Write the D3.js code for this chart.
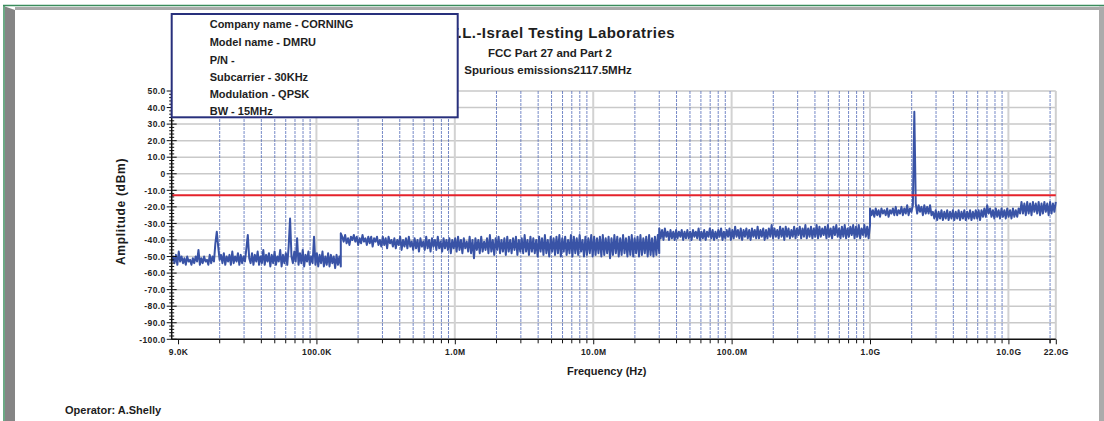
<!DOCTYPE html>
<html><head><meta charset="utf-8">
<script src="https://cdn.jsdelivr.net/npm/d3@7"></script>
<style>
body{margin:0;background:#fff;}
svg{display:block;font-family:"Liberation Sans",Arial,sans-serif;font-weight:bold;}
</style>
</head><body><svg id="c" width="1104" height="421"></svg>
<script>
// ---------------- DATA ----------------
const segStartHz = [9e3, 1.5e5, 3e7, 1e9];
const segEndHz   = [1.5e5, 3e7, 1e9, 2.2e10];
// Segment 1: 9 kHz - 150 kHz (dBm)
const seg1 = [
-53,-50,-54,-49,-55,-47,-53,-50,-54,-51,
-55,-50,-53,-52,-55,-51,-54,-50,-53,-46,
-55,-51,-54,-50,-53,-52,-55,-49,-54,-50,
-53,-42,-35,-44,-52,-49,-54,-48,-55,-50,
-53,-49,-55,-47,-54,-50,-53,-48,-55,-49,
-54,-50,-53,-45,-37,-51,-54,-48,-55,-49,
-53,-47,-55,-50,-54,-46,-55,-49,-53,-48,
-56,-49,-54,-47,-55,-50,-53,-46,-56,-49,
-54,-48,-55,-44,-27,-50,-54,-47,-53,-39,
-55,-48,-54,-46,-56,-49,-53,-47,-55,-50,
-54,-38,-55,-48,-56,-49,-54,-47,-56,-50,
-55,-48,-56,-49,-54,-50,-57,-49,-55,-50,-56];
// Segment 2: 150 kHz - 30 MHz
const seg2 = [
-36,-38,-41,-37,-42,-39,-43,-38,-40,-37,
-41,-38,-43,-39,-42,-37,-41,-39,-43,-38,
-42,-38,-44,-39,-41,-38,-43,-40,-44,-38,
-43,-39,-45,-38,-42,-40,-44,-39,-45,-40,
-43,-38,-46,-40,-44,-39,-45,-38,-44,-41,
-46,-39,-45,-40,-47,-39,-44,-41,-46,-38,
-45,-40,-47,-39,-44,-40,-46,-38,-45,-41,
-47,-39,-45,-40,-46,-39,-48,-40,-45,-39,
-47,-38,-46,-40,-48,-39,-45,-41,-47,-38,
-48,-40,-51,-39,-46,-40,-48,-38,-47,-41,
-46,-39,-48,-37,-47,-40,-49,-39,-46,-38,
-48,-40,-47,-39,-49,-38,-47,-40,-48,-39,
-46,-38,-49,-40,-47,-39,-48,-37,-47,-40,
-49,-38,-47,-39,-48,-40,-50,-38,-47,-39,
-49,-37,-48,-40,-50,-38,-47,-39,-49,-38,
-48,-37,-50,-39,-47,-38,-49,-40,-48,-37,
-50,-38,-48,-39,-49,-37,-47,-40,-50,-38,
-49,-39,-48,-37,-50,-38,-49,-39,-48,-38,
-50,-37,-49,-39,-48,-38,-51,-39,-49,-37,
-48,-38,-50,-39,-49,-37,-48,-39,-50,-38,
-49,-37,-50,-39,-48,-38,-50,-37,-49,-39,
-48,-38,-50,-37,-49,-39,-50,-38,-49,-37,-48];
// Segment 3: 30 MHz - 1 GHz
const seg3 = [
-33,-39,-34,-40,-33,-38,-35,-40,-34,-39,
-35,-40,-34,-39,-35,-38,-34,-40,-35,-39,
-34,-39,-35,-40,-34,-38,-35,-39,-33,-40,
-35,-39,-34,-40,-35,-38,-33,-39,-34,-40,
-35,-39,-34,-38,-33,-40,-35,-39,-34,-38,
-33,-40,-34,-39,-32,-38,-34,-39,-33,-40,
-34,-38,-33,-39,-34,-40,-33,-38,-34,-39,
-32,-39,-34,-38,-33,-40,-34,-39,-33,-38,
-31,-39,-33,-38,-34,-39,-32,-38,-33,-40,
-32,-38,-33,-39,-34,-38,-32,-39,-33,-37,
-32,-39,-33,-38,-31,-39,-33,-38,-32,-39,
-33,-38,-31,-39,-32,-38,-33,-37,-32,-39,
-31,-38,-33,-39,-32,-37,-31,-38,-33,-39,
-32,-38,-31,-39,-33,-38,-32,-37,-31,-39,
-32,-38,-31,-39,-33,-37,-31,-38,-32,-39,-31];
// Segment 4: 1 GHz - 22 GHz (carrier at 2117.5 MHz)
const seg4 = [
-21,-25,-22,-26,-21,-25,-22,-26,-21,-24,
-22,-25,-21,-26,-22,-24,-21,-25,-20,-25,
-22,-24,-20,-25,-21,-24,-19,-25,-21,-23,
-19,37.5,-18,-24,-19,-23,-20,-25,-19,-24,
-20,-24,-19,-25,-23,-27,-22,-28,-23,-27,
-22,-28,-23,-27,-22,-28,-23,-27,-22,-28,
-23,-27,-22,-28,-23,-27,-22,-28,-23,-27,
-22,-28,-23,-27,-22,-27,-22,-28,-22,-26,
-21,-26,-19,-24,-21,-26,-22,-27,-21,-26,
-22,-27,-21,-26,-22,-27,-21,-26,-22,-27,
-21,-26,-22,-26,-21,-24,-17,-24,-18,-25,
-17,-24,-18,-25,-17,-23,-18,-24,-17,-25,
-18,-24,-17,-23,-18,-25,-17,-24,-18,-23,-17];
const segments = [seg1, seg2, seg3, seg4];
const limitDbm = -13;
const yTicks = [50,40,30,20,10,0,-10,-20,-30,-40,-50,-60,-70,-80,-90,-100];
const xTickHz = [1e4,1e5,1e6,1e7,1e8,1e9,1e10,2.2e10];
const xTickLabels = ["9.0K","100.0K","1.0M","10.0M","100.0M","1.0G","10.0G","22.0G"];
const infoLines = ["Company name - CORNING","Model name - DMRU","P/N -","Subcarrier - 30KHz","Modulation - QPSK","BW - 15MHz"];
const titleText = "I.T.L.-Israel Testing Laboratries";
const subTitle1 = "FCC Part 27 and Part 2";
const subTitle2 = "Spurious emissions2117.5MHz";
const xAxisTitle = "Frequency (Hz)";
const yAxisTitle = "Amplitude (dBm)";
const operatorText = "Operator: A.Shelly";

// ---------------- CHART ----------------
const svg = d3.select("#c");
const X0 = 171.7, X1 = 1055.8, Y0 = 91, Y1 = 339.3;
const x = d3.scaleLog().domain([9e3, 2.2e10]).range([X0, X1]);
const y = d3.scaleLinear().domain([-100, 50]).range([Y1, Y0]);

// frame
svg.append("rect").attr("x",0).attr("y",0).attr("width",1104).attr("height",421).attr("fill","#fff");
svg.append("line").attr("x1",3).attr("x2",1104).attr("y1",5.5).attr("y2",5.5).attr("stroke","#3a8c5c").attr("stroke-width",1.5);
svg.append("line").attr("x1",4).attr("x2",4).attr("y1",5).attr("y2",421).attr("stroke","#3a8c5c").attr("stroke-width",1.5);
svg.append("polygon").attr("points","5,6.5 15,10 15,421 5,421").attr("fill","#858585");
svg.append("polygon").attr("points","15,7 1099,7 1099,10 15,10").attr("fill","#a9a9a9");
svg.append("rect").attr("x",1099).attr("y",6.5).attr("width",5).attr("height",415).attr("fill","#ababab");

// horizontal grid
const g = svg.append("g");
g.selectAll("line.hg").data(yTicks.filter(d=>d>-100)).join("line")
  .attr("x1",X0).attr("x2",X1).attr("y1",d=>y(d)).attr("y2",d=>y(d))
  .attr("stroke","#c9c9c9").attr("stroke-width",1.5);

// vertical grid
const minorHz = [];
for (let d = 1e4; d <= 1e10; d *= 10) for (let k = 2; k <= 9; k++) if (k*d < 2.2e10) minorHz.push(k*d);
const decadeHz = [1e5,1e6,1e7,1e8,1e9,1e10];
g.selectAll("line.dg").data(decadeHz).join("line")
  .attr("x1",d=>x(d)).attr("x2",d=>x(d)).attr("y1",Y0).attr("y2",Y1)
  .attr("stroke","#d2d2d2").attr("stroke-width",2);
g.append("line").attr("x1",X1).attr("x2",X1).attr("y1",Y0).attr("y2",Y1).attr("stroke","#cfcfcf").attr("stroke-width",2);
g.selectAll("line.mg").data(minorHz).join("line")
  .attr("x1",d=>x(d)).attr("x2",d=>x(d)).attr("y1",Y0).attr("y2",Y1)
  .attr("stroke","#4a64b6").attr("stroke-width",1).attr("stroke-dasharray","3,1").attr("opacity",0.75);

// trace
const pts = [];
segments.forEach((vals, s) => {
  const a = segStartHz[s], b = segEndHz[s], n = vals.length;
  vals.forEach((v, i) => pts.push({f: a*Math.pow(b/a, i/(n-1)), v}));
});
svg.append("path").datum(pts)
  .attr("d", d3.line().x(d=>x(d.f)).y(d=>y(d.v)))
  .attr("fill","none").attr("stroke","#3953a6").attr("stroke-width",2).attr("stroke-linejoin","round");

// limit line
svg.append("line").attr("x1",X0).attr("x2",X1).attr("y1",y(limitDbm)).attr("y2",y(limitDbm))
  .attr("stroke","#e4222b").attr("stroke-width",2);

// y axis
const ya = svg.append("g").attr("transform",`translate(${X0},0)`)
  .call(d3.axisLeft(y).tickValues(yTicks).tickSize(0).tickPadding(6)
    .tickFormat(d => d === 0 ? "0" : d.toFixed(1)));
ya.select(".domain").remove();
ya.selectAll("text").attr("font-size","8.5px").attr("letter-spacing","0.4px").attr("fill","#222")
  .attr("font-family","Liberation Sans, Arial, sans-serif").attr("font-weight","bold");
const minorY = d3.range(-100, 50.1, 2);
svg.selectAll("line.ymt").data(minorY).join("line")
  .attr("x1", d => X0 - (d % 10 === 0 ? 5 : 2.5)).attr("x2", d => X0 + (d % 10 === 0 ? 5 : 2.5))
  .attr("y1", d=>y(d)).attr("y2", d=>y(d)).attr("stroke","#111").attr("stroke-width",1);
svg.append("line").attr("x1",X0).attr("x2",X0).attr("y1",Y0).attr("y2",Y1).attr("stroke","#111").attr("stroke-width",1.5);

// x axis
const xa = svg.append("g").attr("transform",`translate(0,${Y1})`)
  .call(d3.axisBottom(x).tickValues(xTickHz).tickSize(5).tickPadding(5)
    .tickFormat((d,i) => xTickLabels[i]));
xa.select(".domain").remove();
xa.selectAll("line").attr("stroke","#111");
xa.selectAll("text").attr("font-size","8.5px").attr("letter-spacing","0.4px").attr("fill","#222")
  .attr("font-family","Liberation Sans, Arial, sans-serif").attr("font-weight","bold");
svg.selectAll("line.xmt").data(minorHz.concat([2e10])).join("line")
  .attr("x1",d=>x(d)).attr("x2",d=>x(d)).attr("y1",Y1).attr("y2",Y1+4).attr("stroke","#111").attr("stroke-width",1);
svg.append("line").attr("x1",X0).attr("x2",X1).attr("y1",Y1).attr("y2",Y1).attr("stroke","#111").attr("stroke-width",1.5);

// axis titles
svg.append("text").attr("x",606.7).attr("y",375).attr("text-anchor","middle")
  .attr("font-size","11px").attr("fill","#1c1c1c").text(xAxisTitle);
svg.append("text").attr("transform","translate(124.5,211.5) rotate(-90)").attr("text-anchor","middle")
  .attr("font-size","12px").attr("letter-spacing","0.7px").attr("fill","#1c1c1c").text(yAxisTitle);
svg.append("text").attr("x",65).attr("y",414).attr("font-size","11px").attr("fill","#1c1c1c").text(operatorText);

// titles
svg.append("text").attr("x",675).attr("y",37.7).attr("text-anchor","end")
  .attr("font-size","15px").attr("letter-spacing","0.45px").attr("fill","#1e1e1e").text(titleText);
svg.append("text").attr("x",550).attr("y",56.7).attr("text-anchor","middle")
  .attr("font-size","11.5px").attr("fill","#1e1e1e").text(subTitle1);
svg.append("text").attr("x",548).attr("y",74).attr("text-anchor","middle")
  .attr("font-size","11.5px").attr("fill","#1e1e1e").text(subTitle2);

// info box
svg.append("rect").attr("x",X0).attr("y",14).attr("width",286).attr("height",103.3)
  .attr("fill","#fff").attr("stroke","#28307c").attr("stroke-width",2);
const infoY = [28.3, 46, 63.5, 80.8, 98, 115.3];
svg.selectAll("text.info").data(infoLines).join("text")
  .attr("x",209.7).attr("y",(d,i)=>infoY[i]).attr("font-size","11px").attr("fill","#1e1e1e").text(d=>d);
</script>
</body></html>
